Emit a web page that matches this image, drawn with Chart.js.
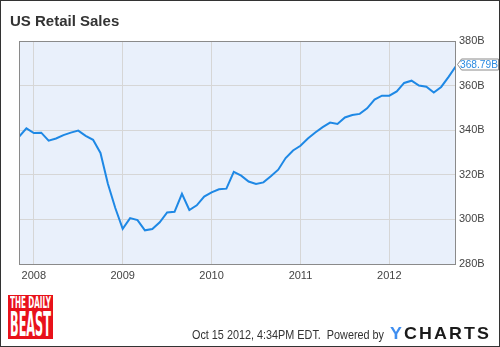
<!DOCTYPE html>
<html>
<head>
<meta charset="utf-8">
<script src="https://cdn.jsdelivr.net/npm/chart.js@4"></script>
<style>
  html, body { margin: 0; padding: 0; background: #fff; }
  #wrap { position: relative; width: 500px; height: 347px; overflow: hidden; font-family: "Liberation Sans", Arial, sans-serif; }
  #chart { position: absolute; left: 0; top: 0; }
  #frame { position: absolute; left: 0; top: 0; width: 500px; height: 347px; box-sizing: border-box; border: 1px solid #333; pointer-events: none; }
  .txt { position: absolute; white-space: nowrap; line-height: 1; transform-origin: 0 0; }
  #title { left: 10px; top: 13px; font-size: 15px; font-weight: bold; color: #333; }
  #logo { position: absolute; left: 8px; top: 295px; width: 45px; height: 44px; background: #e8111a; overflow: hidden; }
  #logo span { position: absolute; left: 2px; color: #fff; font-family: "DejaVu Sans Condensed", "DejaVu Sans", sans-serif; font-weight: bold; line-height: 1; white-space: nowrap; transform-origin: 0 0; }
  #footer { left: 192px; top: 327.5px; font-size: 13px; color: #333; }
  #brand { left: 390px; top: 324.5px; font-size: 17px; font-weight: bold; letter-spacing: 2px; color: #1a1a1a; }
  #brand b { color: #3f8ef0; }
</style>
</head>
<body>
<div id="wrap">
  <canvas id="chart" width="500" height="347"></canvas>
  <div id="title" class="txt">US Retail Sales</div>
  <div id="logo"><span id="logo1">THE DAILY</span><span id="logo2">BEAST</span></div>
  <div id="footer" class="txt">Oct 15 2012, 4:34PM EDT.&nbsp; Powered by</div>
  <div id="brand" class="txt"><b>Y</b>CHARTS</div>
  <div id="frame"></div>
</div>
<script>
// ---- data (monthly, month-end) ----
const startYear = 2007;
const startMonth = 10; // Oct 2007
const salesB = [
  337.0, 340.8, 338.7, 338.9, 335.3, 336.3, 337.8, 338.9, 339.8, 337.5,
  335.7, 329.8, 316.0, 305.1, 295.8, 300.6, 299.7, 295.1, 295.7, 298.7,
  303.1, 303.4, 311.5, 304.2, 306.3, 310.2, 312.1, 313.5, 313.8, 321.3,
  319.6, 317.0, 315.9, 316.6, 319.3, 322.3, 327.5, 330.9, 333.0, 336.3,
  339.0, 341.4, 343.4, 342.8, 345.7, 346.8, 347.3, 349.8, 353.7, 355.5,
  355.5, 357.4, 361.2, 362.2, 360.0, 359.5, 356.9, 359.4, 363.9, 368.79
];
const yearTicks = [2008, 2009, 2010, 2011, 2012];
const yTicks = [280, 300, 320, 340, 360, 380];
const lastLabel = '368.79B';

// month-end positions as fractional years
const xValues = salesB.map((v, i) => startYear + (startMonth + i) / 12);
const points = salesB.map((v, i) => ({ x: xValues[i], y: v }));

// ---- squeeze text horizontally into a given width ----
function fitWidth(id, width) {
  const el = document.getElementById(id);
  const w = el.getBoundingClientRect().width;
  el.style.transform = 'scaleX(' + (width / w) + ')';
}
function fitLogo(id, fontSize, top, width) {
  const el = document.getElementById(id);
  el.style.fontSize = fontSize + 'px';
  el.style.top = top + 'px';
  fitWidth(id, width);
}
fitLogo('logo1', 15, 0.6, 41);
fitLogo('logo2', 33, 12.9, 41);
fitWidth('footer', 192);
fitWidth('brand', 101);

// ---- plugin: plot background, frame, last value flag ----
const plotDecor = {
  id: 'plotDecor',
  beforeDraw(chart) {
    const { ctx, chartArea: a } = chart;
    ctx.save();
    ctx.fillStyle = '#e9f0fb';
    ctx.fillRect(a.left, a.top, a.right - a.left, a.bottom - a.top);
    ctx.restore();
  },
  afterDatasetsDraw(chart) {
    const { ctx, chartArea: a } = chart;
    ctx.save();
    ctx.strokeStyle = '#8a8a8a';
    ctx.lineWidth = 1;
    ctx.strokeRect(a.left + 0.5, a.top + 0.5, a.right - a.left - 1, a.bottom - a.top);
    ctx.restore();

    const meta = chart.getDatasetMeta(0);
    const p = meta.data[meta.data.length - 1];
    const x = Math.round(p.x) + 1.5, y = Math.round(p.y) - 1.5;
    ctx.save();
    ctx.beginPath();
    ctx.moveTo(x, y);
    ctx.lineTo(x + 4, y - 5.5);
    ctx.lineTo(498.5, y - 5.5);
    ctx.lineTo(498.5, y + 5.5);
    ctx.lineTo(x + 4, y + 5.5);
    ctx.closePath();
    ctx.fillStyle = '#fff';
    ctx.fill();
    ctx.strokeStyle = '#8a8a8a';
    ctx.lineWidth = 1;
    ctx.stroke();
    ctx.fillStyle = '#2b8ae0';
    ctx.font = '11px "Liberation Sans", Arial, sans-serif';
    ctx.textBaseline = 'middle';
    const tx = x + 2.5, room = 498 - tx;
    const tw = ctx.measureText(lastLabel).width;
    ctx.translate(tx, y + 0.5);
    if (tw > room) ctx.scale(room / tw, 1);
    ctx.fillText(lastLabel, 0, 0);
    ctx.restore();
  }
};

Chart.defaults.font.family = '"Liberation Sans", Arial, sans-serif';

new Chart(document.getElementById('chart'), {
  type: 'line',
  data: {
    datasets: [{
      data: points,
      borderColor: '#1e88e5',
      borderWidth: 2,
      pointRadius: 0,
      tension: 0,
      fill: false
    }]
  },
  options: {
    responsive: false,
    animation: false,
    devicePixelRatio: 1,
    layout: { padding: { left: 19, top: 41, right: 0, bottom: 0 } },
    plugins: { legend: { display: false }, tooltip: { enabled: false } },
    scales: {
      x: {
        type: 'linear',
        min: xValues[0],
        max: xValues[xValues.length - 1],
        afterBuildTicks: (axis) => { axis.ticks = yearTicks.map(v => ({ value: v })); },
        afterFit: (scale) => { scale.height = 83; },
        grid: { color: '#d6d6d6', drawTicks: false },
        border: { display: false },
        ticks: {
          color: '#444',
          font: { size: 11 },
          padding: 5,
          maxRotation: 0,
          autoSkip: false,
          callback: (v) => String(v)
        }
      },
      y: {
        position: 'right',
        min: yTicks[0],
        max: yTicks[yTicks.length - 1],
        afterBuildTicks: (axis) => { axis.ticks = yTicks.map(v => ({ value: v })); },
        afterFit: (scale) => { scale.width = 44; },
        grid: { color: '#d6d6d6', drawTicks: false },
        border: { display: false },
        ticks: {
          color: '#444',
          font: { size: 11 },
          padding: 3,
          callback: (v) => v + 'B'
        }
      }
    }
  },
  plugins: [plotDecor]
});
</script>
</body>
</html>
